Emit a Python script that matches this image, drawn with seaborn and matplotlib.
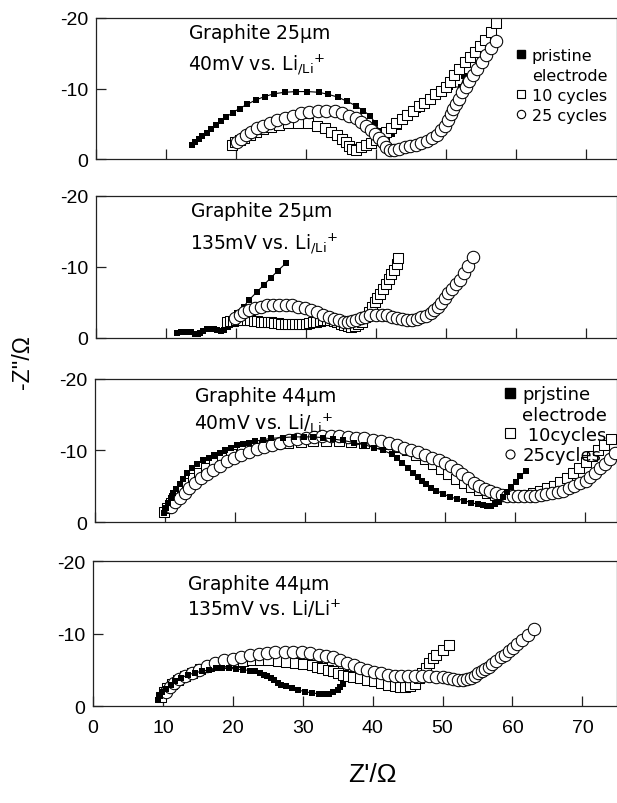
import matplotlib
matplotlib.use("Agg")
import matplotlib.pyplot as plt
from matplotlib.lines import Line2D
import seaborn as sns

# ---------------- data (Z' in ohm, Z'' in ohm) ----------------
# Panel 1: Graphite 25 um, 40 mV
p1_pr_x = [13.7,14.2,14.7,15.2,15.8,16.4,17.1,17.8,18.6,19.5,20.5,21.6,22.8,24.1,25.5,27.0,28.6,30.2,31.8,33.2,
           34.6,35.9,37.1,38.2,39.1,39.9,40.5,40.9,41.2,41.6,42.3,43.3,44.6,46.0,47.5,49.0,50.6,52.1,52.6]
p1_pr_y = [-2.1,-2.5,-2.9,-3.3,-3.8,-4.3,-4.9,-5.4,-6.0,-6.6,-7.2,-7.8,-8.4,-8.9,-9.3,-9.5,-9.6,-9.6,-9.5,-9.2,
           -8.8,-8.2,-7.6,-6.9,-6.2,-5.2,-4.0,-2.8,-1.8,-2.6,-3.6,-4.6,-5.8,-7.0,-8.2,-9.2,-10.3,-10.2,-11.8]
p1_10_x = [19.4,19.9,20.5,21.2,22.0,22.9,23.9,25.0,26.2,27.5,28.9,30.3,31.6,32.7,33.6,34.4,35.1,35.7,36.2,36.6,
           37.2,37.9,38.6,39.3,40.0,40.7,41.4,42.1,42.9,43.7,44.5,45.3,46.1,46.9,47.7,48.5,49.3,50.0,50.6,51.2,
           51.9,52.7,53.4,54.1,54.8,55.6,56.4,57.2]
p1_10_y = [-2.1,-2.4,-2.7,-3.1,-3.5,-3.9,-4.3,-4.6,-4.9,-5.1,-5.2,-5.1,-4.8,-4.4,-3.9,-3.4,-2.9,-2.4,-1.9,-1.5,
           -1.4,-1.7,-2.0,-2.3,-2.7,-3.1,-3.9,-4.5,-5.1,-5.7,-6.3,-6.9,-7.5,-8.0,-8.6,-9.2,-9.7,-10.3,-11.0,-12.0,
           -12.8,-13.8,-14.5,-15.2,-16.0,-16.9,-18.0,-19.3]
p1_25_x = [20.1,20.7,21.4,22.2,23.0,23.9,24.9,25.9,27.0,28.1,29.3,30.5,31.7,32.9,34.1,35.2,36.2,37.1,37.9,38.6,
           39.3,39.9,40.5,41.0,41.5,42.0,42.6,43.3,44.1,44.9,45.7,46.5,47.3,48.0,48.7,49.3,49.8,50.3,50.7,51.0,
           51.4,51.8,52.3,52.8,53.3,53.9,54.5,55.1,55.7,56.4,57.2]
p1_25_y = [-2.4,-2.9,-3.4,-3.9,-4.4,-4.8,-5.2,-5.6,-5.9,-6.2,-6.5,-6.7,-6.9,-6.9,-6.8,-6.6,-6.2,-5.8,-5.3,-4.8,
           -4.2,-3.6,-3.0,-2.4,-1.8,-1.3,-1.3,-1.5,-1.7,-1.9,-2.1,-2.3,-2.6,-3.0,-3.5,-4.1,-4.8,-5.6,-6.4,-7.1,
           -7.9,-8.6,-9.5,-10.3,-11.1,-12.0,-12.8,-13.8,-14.7,-15.7,-16.7]

# Panel 2: Graphite 25 um, 135 mV
p2_pr_x = [11.6,12.1,12.6,13.1,13.6,14.1,14.5,14.9,15.3,15.8,16.3,16.8,17.3,17.8,18.3,18.8,19.4,20.1,21.1,21.8,
           23.0,24.0,25.0,26.0,27.1]
p2_pr_y = [-0.7,-0.8,-0.9,-0.9,-0.8,-0.6,-0.5,-0.7,-1.0,-1.2,-1.2,-1.2,-1.1,-1.0,-1.1,-1.5,-2.4,-3.5,-4.4,-5.3,
           -6.5,-7.5,-8.5,-9.5,-10.5]
p2_10_x = [18.7,19.1,19.5,20.0,20.5,21.0,21.5,22.0,22.5,23.0,23.5,24.0,24.5,25.0,25.5,26.0,26.5,27.0,27.5,28.0,
           28.5,29.0,29.5,30.0,30.5,31.0,31.5,32.0,32.5,33.0,33.5,34.0,34.5,35.0,35.5,36.0,36.5,37.0,37.5,38.0,
           38.5,39.0,39.4,39.8,40.2,40.6,41.0,41.4,41.8,42.2,42.6,43.0,43.2]
p2_10_y = [-2.3,-2.4,-2.4,-2.5,-2.5,-2.5,-2.5,-2.5,-2.4,-2.4,-2.3,-2.3,-2.2,-2.2,-2.1,-2.1,-2.0,-2.0,-1.9,-1.9,
           -1.9,-1.9,-1.9,-2.0,-2.1,-2.2,-2.3,-2.4,-2.5,-2.5,-2.5,-2.4,-2.2,-2.0,-1.8,-1.7,-1.6,-1.7,-1.9,-2.3,
           -2.9,-3.6,-4.3,-5.0,-5.6,-6.2,-6.9,-7.6,-8.3,-9.0,-9.6,-10.4,-11.3]
p2_25_x = [19.9,20.5,21.2,21.9,22.7,23.5,24.4,25.3,26.2,27.1,28.0,28.9,29.8,30.7,31.6,32.5,33.3,34.0,34.7,35.4,
           36.0,36.6,37.2,37.8,38.5,39.2,40.0,40.8,41.6,42.3,43.0,43.7,44.4,45.1,45.8,46.5,47.2,47.8,48.3,48.8,
           49.3,49.8,50.3,50.8,51.4,52.0,52.6,53.2,53.8]
p2_25_y = [-2.8,-3.2,-3.6,-3.9,-4.2,-4.4,-4.6,-4.7,-4.7,-4.7,-4.6,-4.4,-4.2,-3.9,-3.6,-3.3,-3.0,-2.7,-2.5,-2.3,
           -2.3,-2.4,-2.6,-2.8,-3.0,-3.2,-3.3,-3.3,-3.2,-3.0,-2.8,-2.7,-2.6,-2.6,-2.7,-2.9,-3.1,-3.5,-3.9,-4.4,
           -4.9,-5.6,-6.4,-6.9,-7.6,-8.2,-9.1,-10.2,-11.4]

# Panel 3: Graphite 44 um, 40 mV
p3_pr_x = [9.8,10.1,10.4,10.8,11.2,11.6,12.1,12.6,13.2,13.9,14.6,15.4,16.3,17.0,17.8,18.6,19.5,20.3,21.2,22.0,
           22.9,24.0,25.2,26.8,28.4,29.8,31.1,32.6,34.0,35.5,37.0,38.5,39.9,41.2,42.4,43.2,43.9,44.7,45.4,46.1,
           46.7,47.3,48.0,48.8,49.8,50.8,51.8,52.8,53.7,54.7,55.4,56.0,56.6,57.2,57.7,58.3,58.9,59.5,60.1,60.8,61.6]
p3_pr_y = [-1.3,-2.0,-2.6,-3.3,-4.0,-4.6,-5.3,-6.0,-6.8,-7.5,-8.1,-8.6,-9.0,-9.4,-9.7,-10.1,-10.4,-10.7,-10.9,-11.1,
           -11.3,-11.5,-11.7,-11.8,-11.9,-11.9,-11.9,-11.8,-11.6,-11.4,-11.1,-10.8,-10.4,-10.0,-9.5,-8.9,-8.3,-7.6,-6.9,-6.25,
           -5.8,-5.3,-4.8,-4.4,-3.9,-3.5,-3.2,-3.0,-2.7,-2.5,-2.4,-2.3,-2.3,-2.5,-2.8,-3.5,-4.2,-4.9,-5.6,-6.4,-7.2]
p3_10_x = [9.9,10.3,10.8,11.3,11.9,12.5,13.2,14.0,14.9,15.9,17.0,18.2,19.5,21.0,22.6,24.2,25.9,27.6,29.4,31.2,
           33.0,34.8,36.6,38.4,40.1,41.7,43.2,44.6,45.9,47.1,48.3,49.4,50.5,51.6,52.7,53.8,54.9,56.0,57.1,58.2,
           59.3,60.4,61.5,62.6,63.6,64.6,65.6,66.5,67.4,68.3,69.2,70.1,71.0,71.9,72.8,73.7]
p3_10_y = [-1.4,-2.0,-2.7,-3.4,-4.1,-4.8,-5.5,-6.2,-6.9,-7.6,-8.3,-8.9,-9.5,-10.0,-10.4,-10.7,-10.9,-11.1,-11.2,-11.3,
           -11.3,-11.3,-11.2,-11.1,-11.0,-10.9,-10.5,-10.0,-9.4,-8.8,-8.1,-7.4,-6.7,-6.0,-5.4,-4.9,-4.5,-4.1,-3.8,-3.6,
           -3.6,-3.7,-3.8,-4.0,-4.3,-4.7,-5.1,-5.6,-6.2,-6.9,-7.6,-8.4,-9.2,-10.0,-10.8,-11.6]
p3_25_x = [10.9,11.5,12.1,12.8,13.5,14.3,15.1,16.0,16.9,17.9,18.9,19.9,20.9,22.0,23.1,24.2,25.3,26.5,27.7,28.9,
           30.1,31.3,32.5,33.7,34.9,36.1,37.3,38.5,39.7,40.9,42.0,43.1,44.2,45.2,46.2,47.2,48.2,49.1,50.0,50.9,
           51.7,52.5,53.3,54.1,54.9,55.7,56.5,57.3,58.1,58.9,59.7,60.5,61.3,62.1,62.9,63.7,64.5,65.3,66.1,66.9,
           67.7,68.5,69.3,70.1,70.8,71.5,72.2,72.9,73.6,74.3]
p3_25_y = [-2.1,-2.8,-3.4,-4.1,-4.8,-5.4,-6.1,-6.7,-7.3,-7.9,-8.5,-9.0,-9.4,-9.8,-10.2,-10.5,-10.8,-11.1,-11.4,-11.6,
           -11.8,-11.9,-12.0,-12.0,-12.0,-11.9,-11.8,-11.7,-11.5,-11.3,-11.0,-10.7,-10.4,-10.1,-9.8,-9.4,-9.0,-8.6,-8.2,-7.8,
           -7.3,-6.7,-6.1,-5.5,-5.0,-4.6,-4.3,-4.0,-3.8,-3.7,-3.7,-3.7,-3.7,-3.7,-3.7,-3.8,-3.9,-4.0,-4.2,-4.4,
           -4.7,-5.0,-5.4,-5.8,-6.3,-6.9,-7.5,-8.1,-8.8,-9.6]

# Panel 4: Graphite 44 um, 135 mV
p4_pr_x = [9.3,9.6,9.9,10.4,11.1,11.8,12.6,13.6,14.6,15.6,16.6,17.6,18.5,19.5,20.5,21.5,22.5,23.2,23.9,24.4,
           24.9,25.4,25.9,26.4,26.9,27.6,28.4,29.3,30.3,31.3,32.3,33.1,33.8,34.4,35.0,35.4,35.8]
p4_pr_y = [-0.9,-1.4,-2.0,-2.4,-2.9,-3.4,-3.9,-4.3,-4.6,-4.8,-5.0,-5.2,-5.3,-5.2,-5.1,-5.0,-4.9,-4.8,-4.6,-4.3,
           -4.1,-3.8,-3.6,-3.2,-2.9,-2.7,-2.5,-2.2,-2.0,-1.8,-1.7,-1.6,-1.7,-1.9,-2.2,-2.6,-3.1]
p4_10_x = [9.7,10.1,10.6,11.3,12.1,13.1,14.1,15.3,16.6,17.8,19.0,20.2,21.5,22.7,23.9,25.1,26.4,27.6,28.9,30.1,
           31.3,32.1,32.8,33.6,34.3,35.0,35.8,36.5,37.2,38.2,39.2,40.2,41.2,42.2,43.2,43.9,44.6,45.4,46.1,46.6,
           47.1,47.6,48.1,48.6,49.1,50.0,50.9]
p4_10_y = [-1.3,-1.9,-2.5,-3.0,-3.6,-4.1,-4.6,-5.1,-5.5,-5.7,-5.9,-6.1,-6.2,-6.3,-6.3,-6.3,-6.2,-6.1,-6.0,-5.8,
           -5.6,-5.4,-5.3,-5.0,-4.8,-4.6,-4.3,-4.1,-4.0,-3.8,-3.6,-3.4,-3.2,-2.9,-2.7,-2.6,-2.6,-2.8,-3.1,-3.8,
           -4.6,-5.3,-6.0,-6.6,-7.1,-7.8,-8.4]
p4_25_x = [10.4,11.0,11.6,12.3,13.1,14.1,15.1,16.3,17.5,18.7,20.0,21.2,22.5,23.7,24.9,26.1,27.4,28.6,29.9,31.1,
           32.3,33.3,34.3,35.3,36.3,37.3,38.2,39.2,40.2,41.2,42.2,43.2,44.1,45.1,46.1,47.1,48.1,49.1,50.0,50.8,
           51.5,52.2,52.9,53.5,54.0,54.6,55.1,55.6,56.1,56.6,57.1,57.7,58.3,58.9,59.5,60.1,60.7,61.4,62.2,63.1]
p4_25_y = [-2.0,-2.6,-3.2,-3.7,-4.1,-4.6,-5.0,-5.5,-6.0,-6.3,-6.5,-6.8,-7.0,-7.2,-7.3,-7.4,-7.4,-7.4,-7.4,-7.3,
           -7.1,-6.9,-6.7,-6.3,-6.0,-5.6,-5.3,-5.0,-4.7,-4.5,-4.3,-4.2,-4.2,-4.1,-4.1,-4.1,-4.1,-4.0,-4.0,-3.8,
           -3.7,-3.6,-3.6,-3.7,-3.9,-4.2,-4.5,-4.8,-5.1,-5.4,-5.8,-6.2,-6.7,-7.1,-7.6,-8.0,-8.5,-9.1,-9.8,-10.6]

x_ticks = [0, 10, 20, 30, 40, 50, 60, 70]
y_ticks = [0, -10, -20]
y_ticklabels = ["0", "-10", "-20"]

titles_1 = [r"Graphite 25$\mu$m", r"Graphite 25$\mu$m", r"Graphite 44$\mu$m", r"Graphite 44$\mu$m"]
titles_2 = [r"40mV vs. Li$_{/Li}$$^{+}$", r"135mV vs. Li$_{/Li}$$^{+}$",
            r"40mV vs. Li/$_{Li}$$^{+}$", r"135mV vs. Li/Li$^{+}$"]
legend_1 = ["pristine", "electrode", "10 cycles", "25 cycles"]
legend_3 = ["prjstine", "electrode", " 10cycles", "25cycles"]

# ---------------- style ----------------
sns.set_theme(style="white")
plt.rcParams["font.family"] = ["DejaVu Sans"]
plt.rcParams["axes.unicode_minus"] = False
plt.rcParams["mathtext.default"] = "regular"
plt.rcParams["text.color"] = "black"
plt.rcParams["xtick.color"] = "black"
plt.rcParams["ytick.color"] = "black"
plt.rcParams["axes.labelcolor"] = "black"

fig = plt.figure(figsize=(6.17, 8.04), dpi=100)
boxes = [(0.1556, 0.8004, 0.8444, 0.1760),
         (0.1556, 0.5784, 0.8444, 0.1766),
         (0.1540, 0.3495, 0.8460, 0.1779),
         (0.1507, 0.1206, 0.8493, 0.1803)]
xmax = [74.43, 74.43, 74.6, 74.95]
series = [(p1_pr_x, p1_pr_y, p1_10_x, p1_10_y, p1_25_x, p1_25_y, False),
          (p2_pr_x, p2_pr_y, p2_10_x, p2_10_y, p2_25_x, p2_25_y, False),
          (p3_pr_x, p3_pr_y, p3_10_x, p3_10_y, p3_25_x, p3_25_y, True),
          (p4_pr_x, p4_pr_y, p4_10_x, p4_10_y, p4_25_x, p4_25_y, True)]
text_pos = [(0.177, 0.895, 0.675), (0.180, 0.900, 0.670), (0.190, 0.885, 0.695), (0.180, 0.848, 0.676)]

axes = []
for i, box in enumerate(boxes):
    ax = fig.add_axes(box)
    axes.append(ax)
    px, py, sx, sy, cx, cy, pr_top = series[i]
    sns.scatterplot(x=sx, y=sy, ax=ax, marker="s", s=60, facecolor="white",
                    edgecolor="black", linewidth=0.75, zorder=2, legend=False)
    sns.scatterplot(x=cx, y=cy, ax=ax, marker="o", s=80, facecolor="white",
                    edgecolor="black", linewidth=0.75, zorder=3, legend=False)
    sns.lineplot(x=px, y=py, ax=ax, sort=False, estimator=None, color="black",
                 linewidth=0.8, marker="s", markersize=3.8, markeredgewidth=0,
                 zorder=5 if pr_top else 1, legend=False)
    ax.set_xlim(0, xmax[i])
    ax.set_ylim(0, -20)
    ax.set_xticks(x_ticks)
    ax.set_yticks(y_ticks)
    ax.set_yticklabels(y_ticklabels)
    ax.set_xlabel("")
    ax.set_ylabel("")
    ax.tick_params(axis="both", direction="in", length=7.5, width=0.9, color="#222222",
                   labelcolor="black", labelsize=14, top=False, right=False, bottom=True, left=True)
    ax.tick_params(axis="y", pad=5.5)
    ax.tick_params(axis="x", pad=9)
    if i < 3:
        ax.tick_params(labelbottom=False)
    for lab in ax.get_xticklabels() + ax.get_yticklabels():
        lab.set_fontfamily("Liberation Sans")
    for sp in ax.spines.values():
        sp.set_linewidth(0.9)
        sp.set_color("#222222")
    tx, ty1, ty2 = text_pos[i]
    ax.text(tx, ty1, titles_1[i], transform=ax.transAxes, fontsize=13.5, va="center", ha="left")
    ax.text(tx, ty2, titles_2[i], transform=ax.transAxes, fontsize=13.5, va="center", ha="left")

def legend_handles(ms):
    return [Line2D([], [], ls="none", marker="s", color="black", markersize=ms),
            Line2D([], [], ls="none", marker=None),
            Line2D([], [], ls="none", marker="s", mfc="white", mec="black", mew=0.8, markersize=ms),
            Line2D([], [], ls="none", marker="o", mfc="white", mec="black", mew=0.8, markersize=ms)]

axes[0].legend(legend_handles(6), legend_1, loc="upper left", bbox_to_anchor=(0.803, 0.79),
               frameon=False, fontsize=11.5, handlelength=0.8, handletextpad=0.3,
               labelspacing=0.32, borderpad=0, borderaxespad=0)
axes[2].legend(legend_handles(6.5), legend_3, loc="upper left", bbox_to_anchor=(0.782, 0.955),
               frameon=False, fontsize=13, handlelength=0.8, handletextpad=0.25,
               labelspacing=0.12, borderpad=0, borderaxespad=0)

fig.text(0.036, 0.55, "-Z''/\u03a9", rotation=90, ha="center", va="center",
         fontsize=16.5, family="Liberation Sans")
fig.text(0.603, 0.036, "Z'/\u03a9", ha="center", va="center",
         fontsize=19, family="Liberation Sans")

fig.savefig("out.png", dpi=100)
